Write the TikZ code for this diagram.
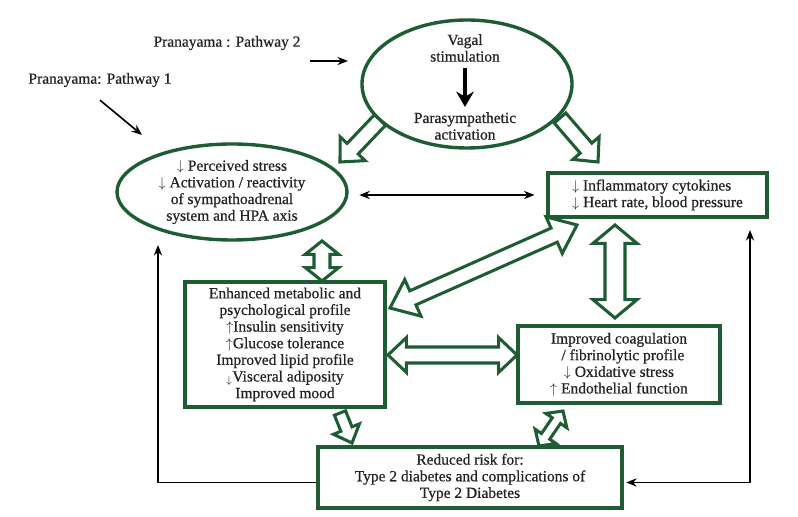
\documentclass[tikz,border=0pt]{standalone}
\usepackage{fontspec}
\setmainfont{Liberation Serif}[FakeBold=0.6]
\usepackage{xcolor}
\usetikzlibrary{arrows.meta,calc,shapes.geometric,positioning}

\definecolor{dkgreen}{RGB}{30,92,52}
\definecolor{txtgray}{RGB}{35,35,35}

% hollow arrows: tail, tip, shaft half width, head half width, head length
\newcommand{\fatsingle}[5]{%
  \coordinate (fb) at ($(#2)!#5!(#1)$);
  \draw[fatline] ($(#1)!#3!90:(#2)$) -- ($(fb)!#3!90:(#2)$) -- ($(fb)!#4!90:(#2)$) -- (#2)
    -- ($(fb)!#4!-90:(#2)$) -- ($(fb)!#3!-90:(#2)$) -- ($(#1)!#3!-90:(#2)$) -- cycle;}
\newcommand{\fatdouble}[5]{%
  \coordinate (fa) at ($(#1)!#5!(#2)$);
  \coordinate (fb) at ($(#2)!#5!(#1)$);
  \draw[fatline] (#1) -- ($(fa)!#4!90:(#2)$) -- ($(fa)!#3!90:(#2)$) -- ($(fb)!#3!90:(#2)$)
    -- ($(fb)!#4!90:(#2)$) -- (#2) -- ($(fb)!#4!-90:(#2)$) -- ($(fb)!#3!-90:(#2)$)
    -- ($(fa)!#3!-90:(#2)$) -- ($(fa)!#4!-90:(#2)$) -- cycle;}

\begin{document}
\begin{tikzpicture}[x=0.03cm, y=-0.03cm, text=txtgray,
    font=\fontsize{13.2}{14.2}\selectfont,
    oval/.style={ellipse, draw=dkgreen, line width=2.9pt, inner sep=0pt},
    box/.style={rectangle, draw=dkgreen, line width=3pt, inner sep=0pt, align=center},
    fatline/.style={draw=dkgreen, line width=2.6pt, fill=white, line join=miter},
    blk/.style={draw=black, line width=1.4pt, >={Stealth[length=9pt, width=7pt]}}]
    \useasboundingbox[fill=white] (0,0) rectangle (798,517);

    % pathways
    \node (path2) at (227,43) {Pranayama : Pathway 2};
    \node (path1) at (100,80) {Pranayama: Pathway 1};

    \node[oval, minimum width=6.3cm, minimum height=3.84cm] (vagal) at (467,84) {};
    \node[align=center] (vagstim) at (465,48) {Vagal\\stimulation};
    \node[align=center] (parasym) at (465,126) {Parasympathetic\\activation};
    \draw[line width=2.8pt, -{Stealth[length=13pt, width=15pt]}, shorten <=2pt, shorten >=1pt] (vagstim.south) -- (parasym.north);

    \node[oval, minimum width=6.9cm, minimum height=2.88cm, align=center] (stress) at (232,192)
        {$\downarrow$ Perceived stress\\$\downarrow$ Activation / reactivity\\of sympathoadrenal\\system and HPA axis};

    % boxes
    \node[box, align=left, minimum width=6.57cm, minimum height=1.32cm] (inflam) at (657.5,195)
        {$\downarrow$ Inflammatory cytokines\\$\downarrow$ Heart rate, blood pressure};
    \node[box, minimum width=6cm, minimum height=3.75cm] (meta) at (285,344.5)
        {Enhanced metabolic and\\psychological profile\\$\uparrow$Insulin sensitivity\\$\uparrow$Glucose tolerance\\Improved lipid profile\\$_\downarrow$Visceral adiposity\\Improved mood};
    \node[box, minimum width=6.06cm, minimum height=2.31cm] (coag) at (619,364.5)
        {Improved coagulation\\\ \ / fibrinolytic profile\\$\downarrow$ Oxidative stress\\$\uparrow$ Endothelial function};
    \node[box, minimum width=9.12cm, minimum height=1.83cm] (risk) at (470,477.5)
        {Reduced risk for:\\Type 2 diabetes and complications of\\Type 2 Diabetes};

    % black arrows
    \coordinate (p2tip) at (348,61);
    \coordinate (p1tip) at (142,135);
    \coordinate (lefttop) at (158,245);
    \coordinate (righttop) at (750,230);
    \draw[blk, ->] ($(p2tip -| path2.east)+(5,0)$) -- (p2tip);
    \draw[blk, ->] ($(path1.south)+(0,9)$) -- (p1tip);
    \draw[blk, <->, shorten <=9pt, shorten >=10pt] (stress.east |- inflam.west) -- (inflam.west);
    \draw[blk, ->] ($(risk.west)+(0,5)$) -| (lefttop);
    \draw[blk, <->, shorten <=2pt] ($(risk.east)+(0,5)$) -| (righttop);

    % hollow arrows
    \coordinate (va1) at (380,120);  \coordinate (va2) at (340,162);
    \coordinate (vb1) at (560,118);  \coordinate (vb2) at (598,162);
    \coordinate (sm1) at (322,241);  \coordinate (sm2) at (322,281);
    \coordinate (mi1) at (390,308);  \coordinate (mi2) at (577,225);
    \coordinate (mc1) at (388,355);  \coordinate (mc2) at (517,355);
    \coordinate (ic1) at (615,225);  \coordinate (ic2) at (615,318);
    \coordinate (mr1) at (340,413);  \coordinate (mr2) at (352,443);
    \coordinate (cr1) at (563,411);  \coordinate (cr2) at (539,446);
    \fatsingle{va1}{va2}{0.23cm}{0.52cm}{0.55cm}
    \fatsingle{vb1}{vb2}{0.23cm}{0.52cm}{0.55cm}
    \fatdouble{sm1}{sm2}{0.24cm}{0.5cm}{0.4cm}
    \fatdouble{mi1}{mi2}{0.23cm}{0.6cm}{0.75cm}
    \fatdouble{mc1}{mc2}{0.24cm}{0.52cm}{0.55cm}
    \fatdouble{ic1}{ic2}{0.3cm}{0.66cm}{0.55cm}
    \fatsingle{mr1}{mr2}{0.18cm}{0.42cm}{0.45cm}
    \fatdouble{cr1}{cr2}{0.15cm}{0.38cm}{0.35cm}
\end{tikzpicture}
\end{document}
